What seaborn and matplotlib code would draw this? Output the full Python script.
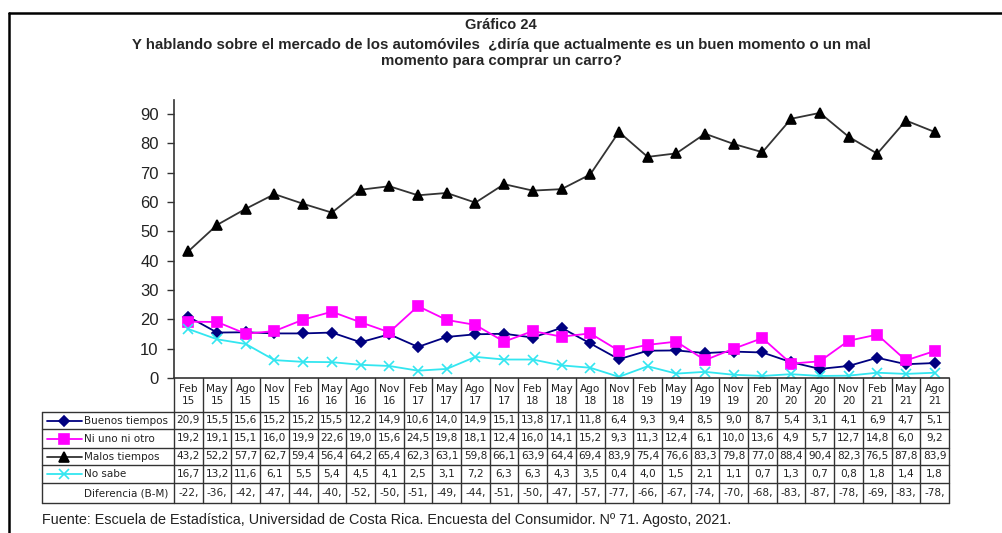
import matplotlib
matplotlib.use("Agg")
import matplotlib.pyplot as plt
import seaborn as sns
import numpy as np
import pandas as pd
from matplotlib.lines import Line2D
from matplotlib.transforms import blended_transform_factory

# ---------------- data ----------------
periodos = ["Feb\n15", "May\n15", "Ago\n15", "Nov\n15",
            "Feb\n16", "May\n16", "Ago\n16", "Nov\n16",
            "Feb\n17", "May\n17", "Ago\n17", "Nov\n17",
            "Feb\n18", "May\n18", "Ago\n18", "Nov\n18",
            "Feb\n19", "May\n19", "Ago\n19", "Nov\n19",
            "Feb\n20", "May\n20", "Ago\n20", "Nov\n20",
            "Feb\n21", "May\n21", "Ago\n21"]
buenos = [20.9, 15.5, 15.6, 15.2, 15.2, 15.5, 12.2, 14.9, 10.6, 14.0, 14.9, 15.1, 13.8, 17.1,
          11.8, 6.4, 9.3, 9.4, 8.5, 9.0, 8.7, 5.4, 3.1, 4.1, 6.9, 4.7, 5.1]
ni_uno = [19.2, 19.1, 15.1, 16.0, 19.9, 22.6, 19.0, 15.6, 24.5, 19.8, 18.1, 12.4, 16.0, 14.1,
          15.2, 9.3, 11.3, 12.4, 6.1, 10.0, 13.6, 4.9, 5.7, 12.7, 14.8, 6.0, 9.2]
malos = [43.2, 52.2, 57.7, 62.7, 59.4, 56.4, 64.2, 65.4, 62.3, 63.1, 59.8, 66.1, 63.9, 64.4,
         69.4, 83.9, 75.4, 76.6, 83.3, 79.8, 77.0, 88.4, 90.4, 82.3, 76.5, 87.8, 83.9]
no_sabe = [16.7, 13.2, 11.6, 6.1, 5.5, 5.4, 4.5, 4.1, 2.5, 3.1, 7.2, 6.3, 6.3, 4.3,
           3.5, 0.4, 4.0, 1.5, 2.1, 1.1, 0.7, 1.3, 0.7, 0.8, 1.8, 1.4, 1.8]
diferencia = [-22, -36, -42, -47, -44, -40, -52, -50, -51, -49, -44, -51, -50, -47,
              -57, -77, -66, -67, -74, -70, -68, -83, -87, -78, -69, -83, -78]
series_names = ["Buenos tiempos", "Ni uno ni otro", "Malos tiempos", "No sabe"]
y_ticks = [0, 10, 20, 30, 40, 50, 60, 70, 80, 90]

titulo = "Gráfico 24"
subtitulo = ("Y hablando sobre el mercado de los automóviles  ¿diría que actualmente es un buen momento o un mal\n"
             "momento para comprar un carro?")
fuente = "Fuente: Escuela de Estadística, Universidad de Costa Rica. Encuesta del Consumidor. Nº 71. Agosto, 2021."

# ---------------- styling ----------------
sns.set_theme(style="white")
plt.rcParams["font.family"] = ["Liberation Sans", "DejaVu Sans"]

W, H = 1002, 533
fig = plt.figure(figsize=(W / 100, H / 100), dpi=100)

def fx(px):
    return px / W

def fy(py):
    return 1 - py / H

ax_left, ax_right, ax_top, ax_bot = 174, 949, 100, 378
ax = fig.add_axes([fx(ax_left), fy(ax_bot), (ax_right - ax_left) / W, (ax_bot - ax_top) / H])

styles = {
    "Buenos tiempos": dict(color="#000080", marker="D", markersize=5.5, mfc="#000080", mec="#000080"),
    "Ni uno ni otro": dict(color="#FF00FF", marker="s", markersize=7, mfc="#FF00FF", mec="#FF00FF"),
    "Malos tiempos": dict(color="#333333", marker="^", markersize=7.5, mfc="black", mec="black"),
    "No sabe": dict(color="#33E6F0", marker="x", markersize=7, mfc="#33E6F0", mec="#33E6F0"),
}
data = {"Buenos tiempos": buenos, "Ni uno ni otro": ni_uno, "Malos tiempos": malos, "No sabe": no_sabe}
x = np.arange(len(periodos))

for name in series_names:
    st = styles[name]
    sns.lineplot(x=x, y=data[name], ax=ax, color=st["color"], marker=st["marker"],
                 markersize=st["markersize"], markerfacecolor=st["mfc"],
                 markeredgecolor=st["mec"], markeredgewidth=1.2, linewidth=1.3,
                 legend=False)

ax.set_xlim(-0.5, len(periodos) - 0.5)
ax.set_ylim(0, 94.8)
ax.set_yticks(y_ticks)
ax.set_yticklabels([str(v) for v in y_ticks], fontsize=12, color="#222222")
ax.set_xticks([])
ax.tick_params(axis="y", direction="out", length=5, width=1, color="#333333", left=True, pad=6)
for s in ["top", "right"]:
    ax.spines[s].set_visible(False)
for s in ["left", "bottom"]:
    ax.spines[s].set_color("#333333")
    ax.spines[s].set_linewidth(1.2)
ax.set_xlabel("")
ax.set_ylabel("")

# ---------------- table ----------------
tr = blended_transform_factory(ax.transData, fig.transFigure)
lc = "#333333"
row_lines = [412, 429, 448, 465, 483, 503]
tab_font = ["DejaVu Sans"]
lbl_left = 42

for b in np.arange(-0.5, len(periodos) + 0.5, 1.0):
    fig.add_artist(Line2D([b, b], [fy(ax_bot), fy(row_lines[-1])], transform=tr, color=lc, lw=1))
fig.add_artist(Line2D([fx(lbl_left), fx(lbl_left)], [fy(row_lines[0]), fy(row_lines[-1])],
                      transform=fig.transFigure, color=lc, lw=1))
for r in row_lines:
    fig.add_artist(Line2D([fx(lbl_left), fx(ax_right)], [fy(r), fy(r)],
                          transform=fig.transFigure, color=lc, lw=1))

for i, p in enumerate(periodos):
    fig.text(i, fy((ax_bot + row_lines[0]) / 2), p, transform=tr, ha="center", va="center",
             fontsize=7.6, family=tab_font, color="#222222", linespacing=1.15)

def fmt(v):
    return f"{v:.1f}".replace(".", ",")

rows = [buenos, ni_uno, malos, no_sabe]
for k, name in enumerate(series_names):
    yc = fy((row_lines[k] + row_lines[k + 1]) / 2)
    for i, v in enumerate(rows[k]):
        fig.text(i, yc, fmt(v), transform=tr, ha="center", va="center",
                 fontsize=7.6, family=tab_font, color="#222222")
    st = styles[name]
    fig.add_artist(Line2D([fx(47), fx(82)], [yc, yc], transform=fig.transFigure,
                          color=st["color"], lw=1.3))
    fig.add_artist(Line2D([fx(64)], [yc], transform=fig.transFigure, linestyle="none",
                          marker=st["marker"], markersize=st["markersize"] - 0.5,
                          markerfacecolor=st["mfc"], markeredgecolor=st["mec"], markeredgewidth=1.2))
    fig.text(fx(84), yc, name, ha="left", va="center", fontsize=7.5, family=tab_font, color="#222222")

yc = fy((row_lines[4] + row_lines[5]) / 2)
for i, v in enumerate(diferencia):
    fig.text(i, yc, f"{v},", transform=tr, ha="center", va="center",
             fontsize=7.6, family=tab_font, color="#222222")
fig.text(fx(84), yc, "Diferencia (B-M)", ha="left", va="center", fontsize=7.5, family=tab_font, color="#222222")

# ---------------- titles / frame / source ----------------
fig.text(0.5, fy(25), titulo, ha="center", va="center", fontsize=10.5, fontweight="bold")
fig.text(0.5, fy(53), subtitulo, ha="center", va="center", fontsize=10.8, fontweight="bold",
         linespacing=1.12)
fig.text(fx(42), fy(520), fuente, ha="left", va="center", fontsize=10.4, color="#222222")

fig.add_artist(Line2D([fx(9), 1.0], [fy(13), fy(13)], transform=fig.transFigure, color="black", lw=1.8))
fig.add_artist(Line2D([fx(9), fx(9)], [fy(13), 0.0], transform=fig.transFigure, color="black", lw=1.8))

fig.savefig("out.png", dpi=100)
